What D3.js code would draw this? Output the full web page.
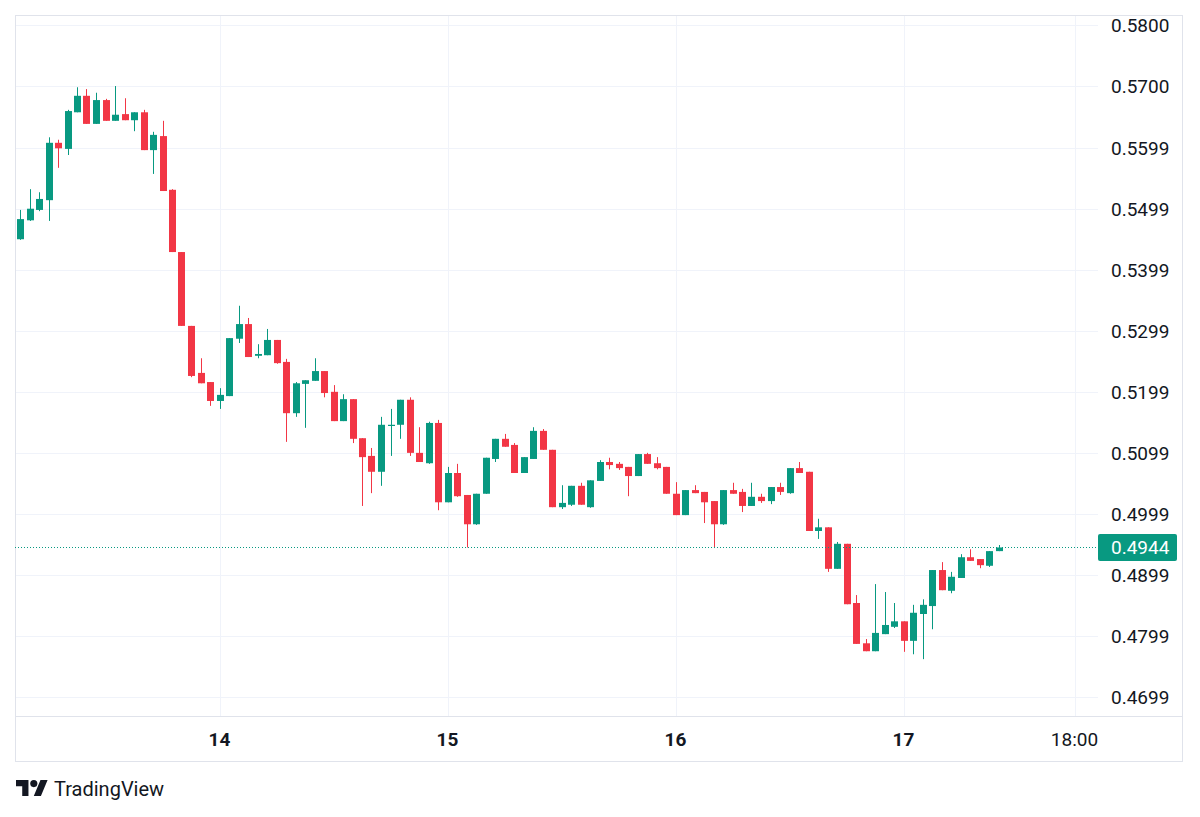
<!DOCTYPE html>
<html>
<head>
<meta charset="utf-8">
<script src="https://cdn.jsdelivr.net/npm/d3@7"></script>
<style>
  body { margin: 0; background: #ffffff; }
  text { font-family: Roboto, "Noto Sans", sans-serif; fill: #131722; }
</style>
</head>
<body>
<div id="chart"></div>
<script>
// Hourly candles, 13th 03:00 -> 17th 10:00
const startTime = new Date(2024, 0, 13, 3);

const open = [
  0.5449, 0.5480, 0.5497, 0.5513, 0.5607, 0.5597, 0.5657, 0.5684, 0.5638, 0.5677,
  0.5643, 0.5654, 0.5644, 0.5657, 0.5595, 0.5618, 0.5530, 0.5428, 0.5307, 0.5230,
  0.5215, 0.5184, 0.5192, 0.5286, 0.5310, 0.5258, 0.5259, 0.5284, 0.5248, 0.5164,
  0.5212, 0.5217, 0.5233, 0.5199, 0.5151, 0.5187, 0.5123, 0.5094, 0.5068, 0.5143,
  0.5145, 0.5186, 0.5099, 0.5082, 0.5148, 0.5018, 0.5066, 0.5030, 0.4982, 0.5032,
  0.5089, 0.5122, 0.5112, 0.5066, 0.5089, 0.5135, 0.5104, 0.5010, 0.5014, 0.5045,
  0.5010, 0.5053, 0.5084, 0.5081, 0.5076, 0.5061, 0.5097, 0.5082, 0.5076, 0.5032,
  0.4997, 0.5038, 0.5035, 0.5020, 0.4982, 0.5038, 0.5035, 0.5012, 0.5027, 0.5020,
  0.5043, 0.5033, 0.5074, 0.5068, 0.4971, 0.4977, 0.4909, 0.4950, 0.4853, 0.4787,
  0.4774, 0.4802, 0.4814, 0.4823, 0.4791, 0.4835, 0.4848, 0.4907, 0.4873, 0.4894,
  0.4928, 0.4925, 0.4914, 0.4938
];
const high = [
  0.5497, 0.5531, 0.5526, 0.5616, 0.5612, 0.5661, 0.5698, 0.5695, 0.5689, 0.5679,
  0.5700, 0.5680, 0.5657, 0.5661, 0.5625, 0.5643, 0.5531, 0.5428, 0.5307, 0.5254,
  0.5215, 0.5205, 0.5287, 0.5340, 0.5320, 0.5277, 0.5302, 0.5284, 0.5253, 0.5215,
  0.5218, 0.5254, 0.5233, 0.5210, 0.5195, 0.5187, 0.5123, 0.5107, 0.5158, 0.5171,
  0.5186, 0.5190, 0.5141, 0.5150, 0.5153, 0.5076, 0.5081, 0.5030, 0.5032, 0.5091,
  0.5122, 0.5130, 0.5115, 0.5092, 0.5141, 0.5138, 0.5104, 0.5046, 0.5045, 0.5050,
  0.5054, 0.5087, 0.5091, 0.5084, 0.5076, 0.5097, 0.5099, 0.5092, 0.5076, 0.5051,
  0.5038, 0.5046, 0.5035, 0.5020, 0.5038, 0.5050, 0.5040, 0.5050, 0.5032, 0.5043,
  0.5050, 0.5074, 0.5084, 0.5068, 0.4991, 0.4977, 0.4953, 0.4950, 0.4866, 0.4794,
  0.4884, 0.4871, 0.4853, 0.4823, 0.4850, 0.4859, 0.4907, 0.4920, 0.4904, 0.4933,
  0.4941, 0.4925, 0.4938, 0.4948
];
const low = [
  0.5448, 0.5479, 0.5495, 0.5479, 0.5566, 0.5587, 0.5657, 0.5638, 0.5638, 0.5643,
  0.5643, 0.5644, 0.5626, 0.5595, 0.5556, 0.5528, 0.5428, 0.5307, 0.5223, 0.5213,
  0.5176, 0.5171, 0.5192, 0.5279, 0.5256, 0.5254, 0.5259, 0.5245, 0.5117, 0.5158,
  0.5140, 0.5217, 0.5190, 0.5151, 0.5151, 0.5115, 0.5012, 0.5033, 0.5045, 0.5094,
  0.5122, 0.5094, 0.5084, 0.5081, 0.5005, 0.5018, 0.5027, 0.4944, 0.4981, 0.5032,
  0.5084, 0.5109, 0.5066, 0.5066, 0.5089, 0.5104, 0.5010, 0.5007, 0.5012, 0.5014,
  0.5009, 0.5053, 0.5072, 0.5071, 0.5028, 0.5061, 0.5081, 0.5072, 0.5032, 0.4997,
  0.4997, 0.5033, 0.4984, 0.4943, 0.4981, 0.5032, 0.5002, 0.5012, 0.5017, 0.5015,
  0.5030, 0.5032, 0.5066, 0.4971, 0.4958, 0.4904, 0.4909, 0.4851, 0.4786, 0.4774,
  0.4774, 0.4802, 0.4812, 0.4773, 0.4769, 0.4761, 0.4810, 0.4874, 0.4869, 0.4894,
  0.4922, 0.4910, 0.4912, 0.4938
];
const close = [
  0.5482, 0.5499, 0.5515, 0.5607, 0.5598, 0.5659, 0.5684, 0.5638, 0.5677, 0.5643,
  0.5653, 0.5644, 0.5657, 0.5595, 0.5620, 0.5528, 0.5428, 0.5307, 0.5225, 0.5213,
  0.5184, 0.5194, 0.5287, 0.5310, 0.5256, 0.5261, 0.5284, 0.5246, 0.5164, 0.5213,
  0.5218, 0.5233, 0.5197, 0.5151, 0.5187, 0.5122, 0.5092, 0.5068, 0.5145, 0.5145,
  0.5186, 0.5099, 0.5084, 0.5148, 0.5018, 0.5066, 0.5028, 0.4982, 0.5032, 0.5091,
  0.5122, 0.5109, 0.5066, 0.5092, 0.5135, 0.5104, 0.5010, 0.5017, 0.5045, 0.5014,
  0.5054, 0.5084, 0.5079, 0.5074, 0.5061, 0.5097, 0.5081, 0.5074, 0.5032, 0.4997,
  0.5038, 0.5033, 0.5018, 0.4982, 0.5038, 0.5032, 0.5012, 0.5027, 0.5020, 0.5043,
  0.5035, 0.5074, 0.5066, 0.4971, 0.4977, 0.4909, 0.4950, 0.4851, 0.4786, 0.4774,
  0.4804, 0.4817, 0.4823, 0.4791, 0.4837, 0.4850, 0.4907, 0.4874, 0.4896, 0.4928,
  0.4922, 0.4915, 0.4938, 0.4944
];

// price axis labels as TradingView prints them
const priceTicks = [0.5800, 0.5700, 0.5599, 0.5499, 0.5399, 0.5299, 0.5199, 0.5099, 0.4999, 0.4899, 0.4799, 0.4699];
const timeTicks = [
  new Date(2024, 0, 14), new Date(2024, 0, 15), new Date(2024, 0, 16),
  new Date(2024, 0, 17), new Date(2024, 0, 17, 18)
];
const lastPrice = 0.4944;

const W = 1200, H = 817;
const frame = { left: 15, right: 1182, top: 15, bottom: 761 };
const plot = { left: 15, right: 1098, top: 15, bottom: 716 };
const up = "#089981", down = "#f23645";

const times = open.map((d, i) => d3.timeHour.offset(startTime, i));
const candles = open.map((d, i) => ({
  t: times[i], o: open[i], h: high[i], l: low[i], c: close[i]
}));

const svg = d3.select("#chart").append("svg")
  .attr("width", W)
  .attr("height", H);

// x: one hour = 9.5px, 14th 00:00 sits at 219.5
const x = d3.scaleTime()
  .domain([new Date(2024, 0, 13), new Date(2024, 0, 18)])
  .range([-8.5, 1131.5]);

const y = d3.scaleLinear()
  .domain([0.4699, 0.5800])
  .range([697, 25]);

// grid
const grid = svg.append("g").attr("class", "grid");
grid.selectAll(".hgrid")
  .data(priceTicks)
  .enter().append("line")
  .attr("x1", plot.left).attr("x2", plot.right)
  .attr("y1", d => Math.round(y(d)) + 0.5)
  .attr("y2", d => Math.round(y(d)) + 0.5)
  .style("stroke", "#f0f3fa");
grid.selectAll(".vgrid")
  .data(timeTicks)
  .enter().append("line")
  .attr("x1", d => Math.round(x(d)) + 0.5)
  .attr("x2", d => Math.round(x(d)) + 0.5)
  .attr("y1", plot.top).attr("y2", plot.bottom)
  .style("stroke", "#f0f3fa");

// frame + time axis separator
svg.append("rect")
  .attr("x", frame.left + 0.5).attr("y", frame.top + 0.5)
  .attr("width", frame.right - frame.left)
  .attr("height", frame.bottom - frame.top)
  .style("fill", "none")
  .style("stroke", "#e0e3eb");
svg.append("line")
  .attr("x1", frame.left).attr("x2", frame.right)
  .attr("y1", plot.bottom + 0.5).attr("y2", plot.bottom + 0.5)
  .style("stroke", "#e0e3eb");

// candles
const cg = svg.append("g").attr("class", "candles");
const cx = d => Math.round(x(d.t));

cg.selectAll(".wick")
  .data(candles)
  .enter().append("line")
  .attr("class", "wick")
  .attr("x1", d => cx(d) + 0.5)
  .attr("x2", d => cx(d) + 0.5)
  .attr("y1", d => y(d.h))
  .attr("y2", d => y(d.l))
  .style("stroke", d => d.c >= d.o ? up : down)
  .style("stroke-width", 1);

cg.selectAll(".body")
  .data(candles)
  .enter().append("rect")
  .attr("class", "body")
  .attr("x", d => cx(d) - 3)
  .attr("width", 7)
  .attr("y", d => y(Math.max(d.o, d.c)))
  .attr("height", d => Math.max(1, Math.abs(y(d.o) - y(d.c))))
  .style("fill", d => d.c >= d.o ? up : down);

// last price dotted line
svg.append("line")
  .attr("x1", plot.left).attr("x2", plot.right)
  .attr("y1", Math.round(y(lastPrice)) + 0.5)
  .attr("y2", Math.round(y(lastPrice)) + 0.5)
  .style("stroke", up)
  .style("stroke-dasharray", "1 2");

// price axis labels
svg.append("g").selectAll("text")
  .data(priceTicks)
  .enter().append("text")
  .attr("x", 1111)
  .attr("y", d => y(d))
  .attr("dy", "0.36em")
  .style("font-size", "19px")
  .text(d => d.toFixed(4));

// last price tag
const tagY = y(lastPrice);
svg.append("rect")
  .attr("x", 1098).attr("y", tagY - 13.5)
  .attr("width", 79).attr("height", 27)
  .attr("rx", 2)
  .style("fill", up);
svg.append("text")
  .attr("x", 1111).attr("y", tagY)
  .attr("dy", "0.36em")
  .style("font-size", "19px")
  .style("fill", "#ffffff")
  .text(lastPrice.toFixed(4));

// time axis labels
const fmtTime = d => d.getHours() === 0 ? d3.timeFormat("%-d")(d) : d3.timeFormat("%H:%M")(d);
svg.append("g").selectAll("text")
  .data(timeTicks)
  .enter().append("text")
  .attr("x", d => x(d))
  .attr("y", 746)
  .attr("text-anchor", "middle")
  .style("font-size", "19px")
  .style("font-weight", d => d.getHours() === 0 ? "700" : "400")
  .text(fmtTime);

// TradingView logo
const logo = svg.append("g").attr("transform", "translate(16, 776.5) scale(0.89)");
logo.append("path")
  .attr("d", "M14 22H7V11H0V4h14v18zM28 22h-8l7.5-18h8L28 22z")
  .style("fill", "#131722");
logo.append("circle")
  .attr("cx", 20).attr("cy", 8).attr("r", 4)
  .style("fill", "#131722");
svg.append("text")
  .attr("x", 54).attr("y", 796)
  .style("font-size", "20px")
  .text("TradingView");
</script>
</body>
</html>
